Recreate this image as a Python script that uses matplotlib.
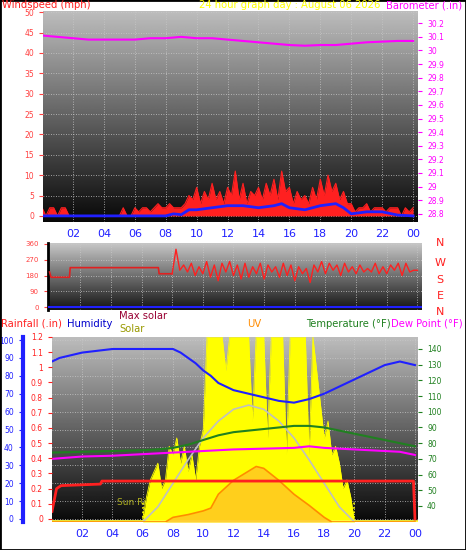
import numpy as np
import matplotlib
matplotlib.use("Agg")
import matplotlib.pyplot as plt

# ---------------- data ----------------
title = "24 hour graph day : August 06 2026"
hour_labels = ["02","04","06","08","10","12","14","16","18","20","22","00"]
hour_ticks = [2,4,6,8,10,12,14,16,18,20,22,24]

baro_h = [0,1,2,3,4,5,6,7,8,9,10,11,12,13,14,15,16,17,18,19,20,21,22,23,24]
baro = [30.11,30.10,30.09,30.08,30.08,30.08,30.08,30.09,30.09,30.10,30.09,30.09,30.08,30.07,30.06,30.05,30.04,30.035,30.04,30.04,30.05,30.06,30.065,30.07,30.07]

gust = [2,0,2,2, 0,2,2,0, 0,0,0,0, 0,0,0,0, 0,0,0,0, 0,2,0,0,
        2,1,2,2, 1,2,3,2, 2,3,2,2, 2,3,5,4, 7,3,6,4, 8,4,6,3,
        7,5,11,4, 8,3,6,5, 7,4,8,5, 9,4,11,6, 7,3,6,4, 5,3,7,4,
        9,5,10,6, 8,4,6,3, 3,1,2,2, 3,1,2,2, 2,1,2,2, 2,0,2,1, 2]
avg_h = [0,8,8.5,9,9.5,10,11,12,13,14,15,15.5,16,17,18,19,19.5,20,21,22,23,24]
avg = [0,0,0.5,0.3,1.5,1.5,2,2.5,2.5,2,2.5,3,2,1.5,2.5,3,2,0.5,1,1,0.2,0]

dir_early_h = [0,0.1,1.3,1.35,7.1,7.15,8.0]
dir_early = [200,170,170,225,225,190,190]
dir_late = [190,330,210,240, 200,250,180,230, 190,260,170,240, 150,250,200,260,
            180,240,160,250, 170,230,190,250, 160,240,200,230, 170,250,180,240,
            150,230,190,220, 140,240,200,260, 190,250,210,240, 180,250,200,230,
            190,240,200,220, 200,250,190,230, 190,240,210,250, 180,250,200,210, 210]

hum_h = [0,0.5,1,1.5,2,3,4,5,6,7,8,8.5,9,9.5,10,10.5,11,12,13,14,15,16,17,18,19,20,21,22,23,24]
hum = [88,90,91,92,93,94,95,95,95,95,95,93,90,87,83,80,76,72,70,68,66,65,67,70,74,78,82,86,88,86]

temp_h = [0,2,4,6,7,8,9,10,11,12,13,14,15,16,17,18,19,20,21,22,23,24]
temp = [74,74.5,75,75.5,76,77,79,82,85,87,88,89,90,91,91,90,88,86,84,82,80,78]
dew_h = [0,2,4,6,8,10,12,14,16,17,18,20,22,23,24]
dew = [70,71.5,72,73,74,75,76,76.5,77,78,77,76,75,74.5,72.5]

maxsol_h = [6,7,8,9,10,11,12,13,14,15,16,17,18,19,20]
maxsol = [0,90,230,370,500,600,670,695,670,600,500,370,230,90,0]
solar = [20,150,250,300, 350,200,250,450, 400,500,350,450, 300,400,250,450,
         550,1100,1100,1100, 1100,1100,900,1100, 1100,1100,1100,1100, 1100,600,1100,1100,
         1100,500,1100,1100, 1100,1100,400,1100, 1100,1100,1100,1100, 400,1100,900,700,
         500,600,400,450, 350,200,250,150, 0]

uv_h = [0,7.5,8,9,10,10.5,11,12,13,13.5,14,15,16,17,18,18.5,24]
uv = [0,0,0.5,0.8,1.2,1.5,3,4.5,5.5,6,5.8,4.5,3,1.8,0.5,0,0]

rain_h = [0,0.3,0.6,3.2,3.3,23.9,24]
rain = [0.05,0.2,0.22,0.23,0.25,0.25,0.0]

# ---------------- figure ----------------
W, H = 466, 550
fig = plt.figure(figsize=(W/100, H/100), dpi=100)
fig.patch.set_facecolor("white")

def rect(l, t, r, b):
    return [l/W, 1-b/H, (r-l)/W, (b-t)/H]

def gradient(ax, top=0.74, bot=0.03):
    g = np.linspace(top, bot, 256).reshape(-1, 1)
    ax.imshow(g, cmap="gray", vmin=0, vmax=1, aspect="auto",
              extent=[0, 1, 0, 1], transform=ax.transAxes, zorder=0)

def grid(ax):
    ax.grid(True, color="#c8c8c8", linestyle=(0, (1, 2)), linewidth=0.6, zorder=1)

red = "#ff2020"
blue = "#2020ff"
mag = "#ff00ff"
green = "#208020"
tfs = 5.5

# ---- top panel ----
ax1 = fig.add_axes(rect(43, 11, 418, 222))
gradient(ax1)
ax1.set_xlim(0.06, 24.32)
ax1.set_ylim(-1.5, 50.3)
ax1.set_yticks(range(0, 51, 5))
ax1.set_xticks(hour_ticks)
ax1.set_xticklabels(hour_labels, color=blue, fontsize=8)
ax1.tick_params(axis="y", colors="#ff4040", labelsize=tfs, length=3)
ax1.tick_params(axis="x", length=0, pad=5)
grid(ax1)
gx = np.arange(len(gust)) * 0.25
ax1.fill_between(gx, 0, gust, color=red, lw=0, zorder=3)
ax1.plot(gx, gust, color=red, lw=0.8, zorder=3)
ax1.plot(avg_h, avg, color=blue, lw=2, zorder=4)
for s in ax1.spines.values():
    s.set_visible(False)
ax1b = ax1.twinx()
ax1b.set_ylim(28.74, 30.29)
bt = np.round(np.arange(28.8, 30.21, 0.1), 1)
ax1b.set_yticks(bt)
ax1b.set_yticklabels([f"{v:g}" for v in bt])
ax1b.tick_params(axis="y", colors=mag, labelsize=tfs, length=3)
ax1b.plot(baro_h, baro, color=mag, lw=1.5, zorder=4)
for s in ax1b.spines.values():
    s.set_visible(False)

# ---- middle panel ----
ax2 = fig.add_axes(rect(48, 243, 422, 310))
gradient(ax2, 0.78, 0.08)
ax2.set_xlim(-0.1, 24.3)
ax2.set_ylim(-17, 365.7)
ax2.set_yticks([0, 90, 180, 270, 360])
ax2.set_xticks(hour_ticks)
ax2.set_xticklabels([])
ax2.tick_params(axis="y", colors="#ff4040", labelsize=5, length=3)
ax2.tick_params(axis="x", length=0)
grid(ax2)
ax2.plot(dir_early_h, dir_early, color="#e02020", lw=1.2, zorder=3)
dx = 8 + np.arange(len(dir_late)) * 0.25
ax2.plot(dx, dir_late, color=red, lw=1, zorder=3)
ax2.axhline(0, color=blue, lw=1.5, zorder=3)
for s in ax2.spines.values():
    s.set_visible(False)
ax2.spines["left"].set_visible(True)
ax2.spines["left"].set_color("black")
ax2.spines["left"].set_linewidth(2)
for lab, y in zip(["N", "W", "S", "E", "N"], [243, 263, 280, 296, 312]):
    fig.text(440/W, 1-y/H, lab, color=red, fontsize=8, ha="center", va="center")

# ---- bottom panel ----
ax3 = fig.add_axes(rect(52, 337, 418, 522))
gradient(ax3, 0.74, 0.03)
ax3.set_xlim(0, 24.2)
ax3.set_ylim(-1.7, 101.7)
ax3.set_yticks(range(0, 101, 10))
ax3.set_xticks(hour_ticks)
ax3.set_xticklabels(hour_labels, color=blue, fontsize=8)
ax3.tick_params(axis="x", length=0, pad=5)
ax3.tick_params(axis="y", colors=blue, labelsize=tfs, length=3)
ax3.spines["left"].set_position(("outward", 21))
ax3.spines["left"].set_color(blue)
ax3.spines["left"].set_linewidth(3)
for k in ["right", "top", "bottom"]:
    ax3.spines[k].set_visible(False)
grid(ax3)

axs = ax3.twinx()
axs.set_ylim(0, 1100)
axs.axis("off")
sx = 6 + np.arange(len(solar)) * 0.25
axs.text(4.3, 100, "Sun Rise", color="#b0b020", fontsize=6.5, zorder=2)
axs.axvline(6, color="yellow", ls=":", lw=1.2, ymax=0.12)
axs.axvline(20, color="yellow", ls=":", lw=1.2, ymax=0.12)
axs.fill_between(sx, 0, solar, color="#ffff00", lw=0, zorder=3)
axs.plot(sx, solar, color="#ffff00", lw=0.6, zorder=3)
axs.plot(maxsol_h, maxsol, color="#c0c0c0", lw=1.2, zorder=5)
axs.axhline(5, color="#ffff40", lw=2, zorder=4)

axu = ax3.twinx()
axu.set_ylim(0, 20)
axu.axis("off")
axu.fill_between(uv_h, 0, uv, color="#ffb030", alpha=0.6, lw=0, zorder=3)
axu.plot(uv_h, uv, color="#ff8c00", lw=1.2, zorder=4)

axt = ax3.twinx()
axt.set_ylim(29.8, 147.6)
axt.set_yticks(range(40, 141, 10))
axt.tick_params(axis="y", colors=green, labelsize=tfs, length=3)
for s in axt.spines.values():
    s.set_visible(False)
axt.plot(temp_h, temp, color=green, lw=1.5, zorder=5)
axt.plot(dew_h, dew, color=mag, lw=1.5, zorder=5)

axr = ax3.twinx()
axr.set_ylim(-0.02, 1.185)
axr.yaxis.set_ticks_position("left")
axr.yaxis.set_label_position("left")
rt = np.round(np.arange(0, 1.21, 0.1), 1)
axr.set_yticks(rt)
axr.set_yticklabels([f"{v:g}" for v in rt])
axr.tick_params(axis="y", colors=red, labelsize=tfs, length=3)
for s in axr.spines.values():
    s.set_visible(False)
axr.plot(rain_h, rain, color=red, lw=2, zorder=6)

axh = ax3.twinx()
axh.set_ylim(-1.7, 101.7)
axh.axis("off")
axh.plot(hum_h, hum, color=blue, lw=1.5, zorder=6)

# ---- texts ----
fs = 7.2
fig.text(2/W, 1-5/H, "Windspeed (mph)", color=red, fontsize=fs, va="center")
fig.text(290/W, 1-5/H, title, color="#ffff00", fontsize=fs, va="center", ha="center")
fig.text(462/W, 1-5/H, "Barometer (.in)", color=mag, fontsize=fs, va="center", ha="right")
fig.text(1/W, 1-324/H, "Rainfall (.in)", color=red, fontsize=fs, va="center")
fig.text(67/W, 1-324/H, "Humidity", color="#0000cc", fontsize=fs, va="center")
fig.text(119/W, 1-316/H, "Max solar", color="#990033", fontsize=fs, va="center")
fig.text(119/W, 1-329/H, "Solar", color="#999900", fontsize=fs, va="center")
fig.text(254/W, 1-324/H, "UV", color="#ff8c00", fontsize=fs, va="center", ha="center")
fig.text(391/W, 1-324/H, "Temperature (°F)", color=green, fontsize=fs, va="center", ha="right")
fig.text(463/W, 1-324/H, "Dew Point (°F)", color=mag, fontsize=fs, va="center", ha="right")

border = plt.Rectangle((0, 0), 1, 1, transform=fig.transFigure, fill=False,
                       edgecolor="black", lw=2)
fig.patches.append(border)
fig.savefig("out.png", dpi=100)
